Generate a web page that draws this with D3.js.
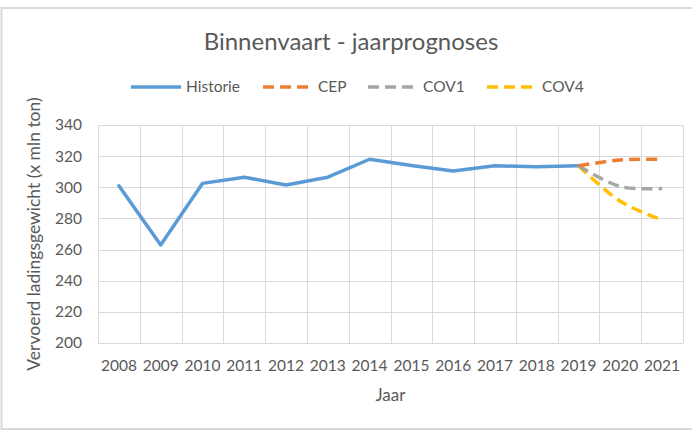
<!DOCTYPE html>
<html>
<head>
<meta charset="utf-8">
<script src="https://cdn.jsdelivr.net/npm/d3@7"></script>
<style>
  body { margin: 0; background: #fff; }
  text { font-family: Lato, "Open Sans", sans-serif; fill: #595959; }
</style>
</head>
<body>
<script>
// data
const years = [2008, 2009, 2010, 2011, 2012, 2013, 2014, 2015, 2016, 2017, 2018, 2019, 2020, 2021];
const historie = [301, 263, 302.5, 306.5, 301.5, 306.5, 318, 314, 310.5, 313.8, 313.2, 313.8];
const cepYears = [2019, 2020, 2021];
const cep = [313.8, 317.5, 318];
const cov1 = [313.8, 300.5, 299.2];
const cov4 = [313.8, 291, 279];
const yTicks = [200, 220, 240, 260, 280, 300, 320, 340];

const width = 692, height = 434;
const margin = {top: 125, right: 9, bottom: 91, left: 98};

const svg = d3.select("body").append("svg")
  .attr("width", width)
  .attr("height", height);

// outer chart frame
svg.append("rect")
  .attr("x", 1.5).attr("y", 8)
  .attr("width", 710).attr("height", 421)
  .attr("fill", "none")
  .attr("stroke", "#d9d9d9")
  .attr("stroke-width", 2);

const x = d3.scaleBand()
  .domain(years)
  .range([margin.left, width - margin.right])
  .paddingInner(0).paddingOuter(0);

const y = d3.scaleLinear()
  .domain([200, 340])
  .range([height - margin.bottom, margin.top]);

const cx = d => x(d) + x.bandwidth() / 2;

// gridlines
const grid = svg.append("g").attr("stroke", "#d9d9d9").attr("stroke-width", 1);
grid.selectAll("line.h")
  .data(yTicks)
  .join("line")
  .attr("class", "h")
  .attr("x1", margin.left).attr("x2", width - margin.right)
  .attr("y1", d => Math.round(y(d)) + 0.5).attr("y2", d => Math.round(y(d)) + 0.5);
grid.selectAll("line.v")
  .data(years.map(d => x(d)).concat([width - margin.right]))
  .join("line")
  .attr("class", "v")
  .attr("x1", d => Math.round(d) + 0.5).attr("x2", d => Math.round(d) + 0.5)
  .attr("y1", margin.top).attr("y2", height - margin.bottom);

// axes (labels only)
const yAxis = svg.append("g")
  .attr("transform", `translate(${margin.left - 7},0)`)
  .call(d3.axisLeft(y).tickValues(yTicks).tickSize(0).tickPadding(9));
yAxis.select(".domain").remove();
yAxis.selectAll("text").style("font-size", "15.5px").attr("fill", "#595959");

const xAxis = svg.append("g")
  .attr("transform", `translate(0,${height - margin.bottom})`)
  .call(d3.axisBottom(x).tickSize(0).tickPadding(17));
xAxis.select(".domain").remove();
xAxis.selectAll("text").style("font-size", "15.5px").attr("fill", "#595959");

// series
const line = d3.line().x(d => cx(d[0])).y(d => y(d[1]));
const smooth = d3.line().x(d => cx(d[0])).y(d => y(d[1])).curve(d3.curveCatmullRom);

svg.append("path")
  .datum(d3.zip(years.slice(0, historie.length), historie))
  .attr("d", line)
  .attr("fill", "none")
  .attr("stroke", "#5b9bd5")
  .attr("stroke-width", 3.5)
  .attr("stroke-linejoin", "round")
  .attr("stroke-linecap", "round");

const forecasts = [
  {name: "CEP", values: cep, color: "#ed7d31"},
  {name: "COV1", values: cov1, color: "#a5a5a5"},
  {name: "COV4", values: cov4, color: "#ffc000"}
];

forecasts.slice().reverse().forEach(s => {
  svg.append("path")
    .datum(d3.zip(cepYears, s.values))
    .attr("d", smooth)
    .attr("fill", "none")
    .attr("stroke", s.color)
    .attr("stroke-width", 3.5)
    .attr("stroke-dasharray", "11,6");
});

// title
svg.append("text")
  .attr("x", 351).attr("y", 50)
  .attr("text-anchor", "middle")
  .style("font-size", "24px")
  .text("Binnenvaart - jaarprognoses");

// legend
const legendItems = [
  {name: "Historie", color: "#5b9bd5", dash: null, x: 131},
  {name: "CEP", color: "#ed7d31", dash: "11,6", x: 263},
  {name: "COV1", color: "#a5a5a5", dash: "11,6", x: 368},
  {name: "COV4", color: "#ffc000", dash: "11,6", x: 487}
];
const leg = svg.append("g").attr("transform", "translate(0,87)");
leg.selectAll("line")
  .data(legendItems)
  .join("line")
  .attr("x1", d => d.x).attr("x2", d => d.x + 50)
  .attr("y1", 0).attr("y2", 0)
  .attr("stroke", d => d.color)
  .attr("stroke-width", 3.5)
  .attr("stroke-dasharray", d => d.dash);
leg.selectAll("text")
  .data(legendItems)
  .join("text")
  .attr("x", d => d.x + 55)
  .attr("y", 5)
  .style("font-size", "15.5px")
  .text(d => d.name);

// axis titles
svg.append("text")
  .attr("transform", `translate(40,${(margin.top + height - margin.bottom) / 2}) rotate(-90)`)
  .attr("text-anchor", "middle")
  .style("font-size", "17.5px")
  .text("Vervoerd ladingsgewicht (x mln ton)");

svg.append("text")
  .attr("x", cx(2014) + x.bandwidth() / 2)
  .attr("y", 401)
  .attr("text-anchor", "middle")
  .style("font-size", "17px")
  .text("Jaar");
</script>
</body>
</html>
